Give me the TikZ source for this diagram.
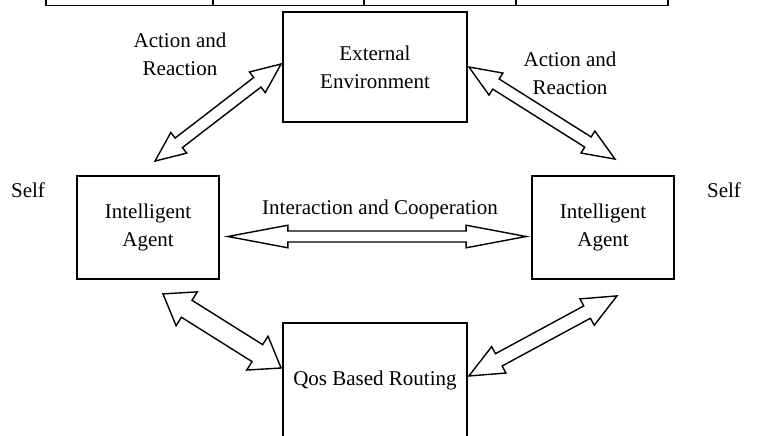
\documentclass[tikz,border=0pt]{standalone}
\usepackage{fontspec}
\setmainfont{Liberation Serif}
\usetikzlibrary{calc}
\tikzset{
  box/.style={draw, line width=1.8pt, inner sep=0pt, align=center},
  lbl/.style={inner sep=0pt, align=center},
  barrow/.style={draw, fill=white, line width=1.4pt, line join=miter},
}
% #1 start, #2 end, #3 shaft half width, #4 head half width, #5 head length
\newcommand\blockarr[5]{%
  \draw[barrow] (#1)
    -- ($(#1)!#5!(#2)!#4!90:(#2)$)
    -- ($(#1)!#5!(#2)!#3!90:(#2)$)
    -- ($(#2)!#5!(#1)!#3!-90:(#1)$)
    -- ($(#2)!#5!(#1)!#4!-90:(#1)$)
    -- (#2)
    -- ($(#2)!#5!(#1)!#4!90:(#1)$)
    -- ($(#2)!#5!(#1)!#3!90:(#1)$)
    -- ($(#1)!#5!(#2)!#3!-90:(#2)$)
    -- ($(#1)!#5!(#2)!#4!-90:(#2)$)
    -- cycle;}
\begin{document}
\begin{tikzpicture}[x=1pt,y=-1pt, font={\fontsize{21}{28}\selectfont}]
\clip (0,0) rectangle (758,436);
\fill[white] (0,0) rectangle (758,436);

% fragment of the table above
\draw[line width=1.8pt] (46,-5) -- (46,5.5) -- (668,5.5) -- (668,-5);
\draw[line width=1.8pt] (213,-5) -- (213,5.5) (364,-5) -- (364,5.5) (516,-5) -- (516,5.5);

% boxes
\node[box, minimum width=184pt, minimum height=110pt] (ext) at (375,67) {External\\Environment};
\node[box, minimum width=142pt, minimum height=103pt] (ag1) at (148,227.5) {Intelligent\\Agent};
\node[box, minimum width=142pt, minimum height=103pt] (ag2) at (603,227.5) {Intelligent\\Agent};
\node[box, minimum width=184pt, minimum height=114pt] (qos) at (375,380) {Qos Based Routing};

% labels
\node[lbl] (l1) at (180,54) {Action and\\Reaction};
\node[lbl] (l2) at (570,73) {Action and\\Reaction};
\node[lbl] (l3) at (380,209) {Interaction and Cooperation};
\node[lbl] (s1) at (28,190) {Self};
\node[lbl] (s2) at (724,190) {Self};

% arrow end points
\coordinate (a1s) at ($(ag1.north)+(7,-14)$);
\coordinate (a1e) at ($(ext.west)+(-1,-3)$);
\coordinate (a2s) at ($(ext.east)+(1,0)$);
\coordinate (a2e) at ($(ag2.north)+(12,-16)$);
\coordinate (a3s) at ($(ag1.east)+(8,9)$);
\coordinate (a3e) at ($(ag2.west)+(-5,9)$);
\coordinate (a4s) at ($(ag1.south)+(15,14)$);
\coordinate (a4e) at ($(qos.west)+(-1,-12)$);
\coordinate (a5s) at ($(qos.east)+(1,-4)$);
\coordinate (a5e) at ($(ag2.south)+(14,16)$);

\blockarr{a1s}{a1e}{6pt}{13pt}{30pt}
\blockarr{a2s}{a2e}{6pt}{13pt}{32pt}
\blockarr{a3s}{a3e}{5.5pt}{11.3pt}{60pt}
\blockarr{a4s}{a4e}{10pt}{20pt}{28pt}
\blockarr{a5s}{a5e}{7pt}{15pt}{34pt}
\end{tikzpicture}
\end{document}
